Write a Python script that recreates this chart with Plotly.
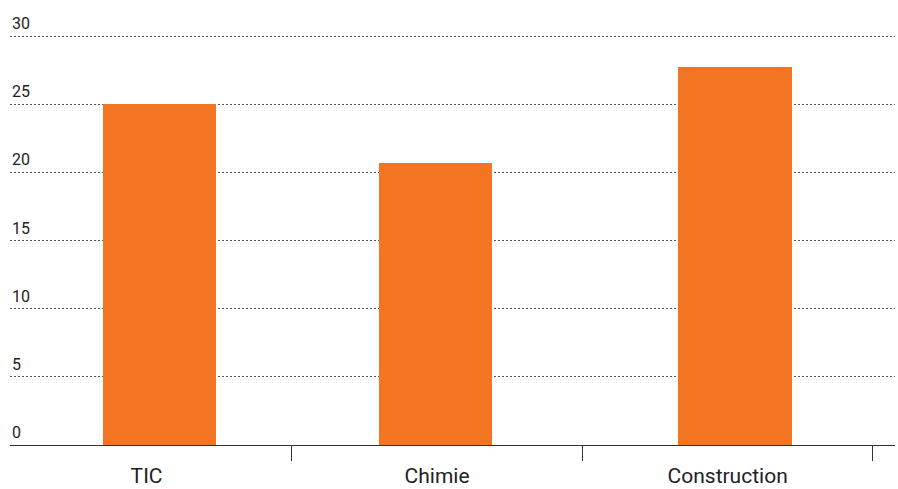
import plotly.graph_objects as go

categories = ["TIC", "Chimie", "Construction"]
values = [25.0, 20.7, 27.7]
y_ticks = [0, 5, 10, 15, 20, 25, 30]

fig = go.Figure(go.Bar(
    x=categories, y=values,
    marker=dict(color="#F37521", line=dict(width=0)),
    width=0.39,
    offset=[-0.15, -0.20, -0.17],
))

fig.update_layout(
    width=898, height=489,
    margin=dict(l=10, r=3, t=33, b=44),
    paper_bgcolor="white", plot_bgcolor="white",
    font=dict(family="Roboto", color="#222222"),
    showlegend=False,
    bargap=0,
)
for v in y_ticks:
    fig.add_annotation(
        x=0, xref="paper", y=v, yref="y",
        text=str(v), showarrow=False,
        xanchor="left", yanchor="bottom", yshift=1,
        font=dict(size=16, color="#222222"),
    )
fig.update_xaxes(
    type="category",
    range=[-0.47, 2.576],
    automargin=False,
    showline=True, linecolor="#333333", linewidth=1,
    ticks="outside", tickson="boundaries", ticklen=15, tickcolor="#333333", tickwidth=1,
    ticklabelstandoff=12,
    showgrid=False,
    tickfont=dict(size=21, color="#222222"),
)
fig.update_yaxes(
    range=[0, 30.22],
    tickvals=y_ticks,
    showticklabels=False,
    automargin=False,
    showgrid=True, gridcolor="#555555", griddash="2px,2px", gridwidth=1,
    zeroline=False, showline=False, ticks="",
)
fig.write_html("out.html")
